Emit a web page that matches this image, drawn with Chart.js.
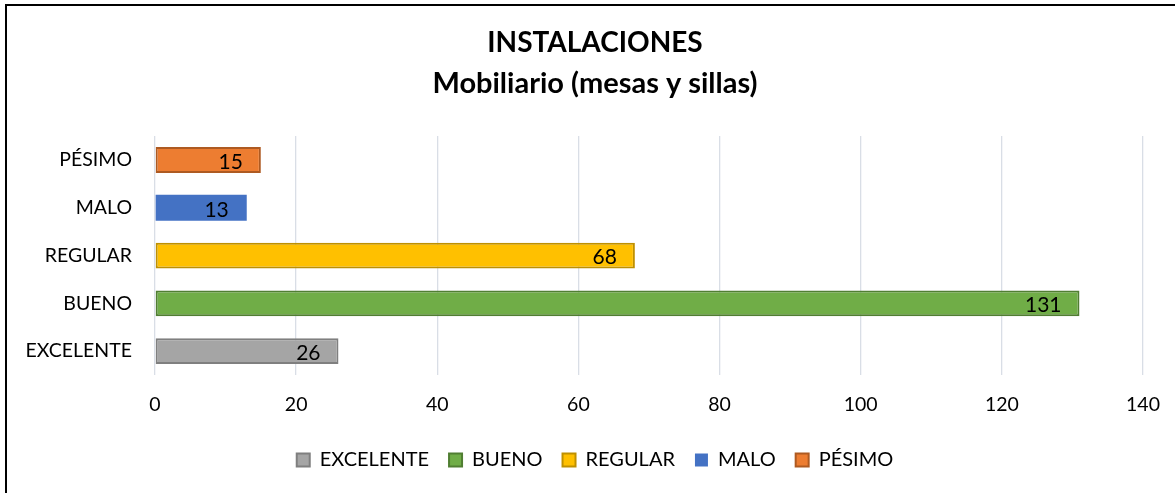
<!DOCTYPE html>
<html>
<head>
<meta charset="utf-8">
<script src="https://cdn.jsdelivr.net/npm/chart.js@4.4.1/dist/chart.umd.min.js"></script>
<style>
  html, body { margin: 0; padding: 0; background: #fff; overflow: hidden; }
  #wrap { position: absolute; left: 0; top: 0; width: 1175px; height: 493px; }
  #frame { position: absolute; left: 5px; top: 4px; width: 2000px; height: 2000px;
           border-left: 2px solid #000; border-top: 2px solid #000; pointer-events: none; }
</style>
</head>
<body>
<div id="wrap"><canvas id="c" width="1175" height="493"></canvas></div>
<div id="frame"></div>
<script>
// ---- data ----
const titleText = 'INSTALACIONES';
const subtitleText = 'Mobiliario (mesas y sillas)';
const categories = ['EXCELENTE', 'BUENO', 'REGULAR', 'MALO', 'PÉSIMO'];
const values = [26, 131, 68, 13, 15];
const xTicks = [0, 20, 40, 60, 80, 100, 120, 140];
const fillColors = ['#A5A5A5', '#70AD47', '#FFC000', '#4472C4', '#ED7D31'];
const borderColors = ['#7F7F7F', '#507E32', '#BF9000', '#4472C4', '#AE5A21'];
const borderWidths = [2, 2, 2, 0, 2];

const FONT = 'Lato, "Open Sans", sans-serif';

const dataLabels = {
  id: 'dataLabels',
  afterDatasetsDraw(chart) {
    const ctx = chart.ctx;
    const meta = chart.getDatasetMeta(0);
    ctx.save();
    ctx.font = '21px ' + FONT;
    ctx.fillStyle = '#000';
    ctx.textAlign = 'right';
    ctx.textBaseline = 'middle';
    meta.data.forEach((bar, i) => {
      ctx.fillText(String(chart.data.datasets[0].data[i]), bar.x - 18, bar.y + 2);
    });
    ctx.restore();
  }
};

function blueGradient(context) {
  const chart = context.chart;
  const i = context.dataIndex;
  if (i !== 3) return fillColors[i];
  const el = chart.getDatasetMeta(0).data[i];
  if (!el || el.y === undefined || isNaN(el.y)) return fillColors[i];
  const h = el.height || 24;
  const g = chart.ctx.createLinearGradient(0, el.y - h / 2, 0, el.y + h / 2);
  g.addColorStop(0, '#5C86D2');
  g.addColorStop(1, '#2F60BA');
  return g;
}

new Chart(document.getElementById('c'), {
  type: 'bar',
  data: {
    labels: categories,
    datasets: [{
      data: values,
      backgroundColor: blueGradient,
      borderColor: borderColors,
      borderWidth: borderWidths,
      borderSkipped: false,
      categoryPercentage: 1,
      barPercentage: 0.54
    }]
  },
  plugins: [dataLabels],
  options: {
    indexAxis: 'y',
    responsive: false,
    animation: false,
    layout: { padding: { left: 20, right: 5, top: 26, bottom: 13 } },
    plugins: {
      title: {
        display: true,
        text: titleText,
        color: '#000',
        font: { family: FONT, size: 28, weight: 'bold', lineHeight: 1.18 },
        padding: { top: 0, bottom: 8 }
      },
      subtitle: {
        display: true,
        text: subtitleText,
        color: '#000',
        font: { family: FONT, size: 29, weight: 'bold', lineHeight: 1.14 },
        padding: { top: 0, bottom: 36 }
      },
      legend: {
        position: 'bottom',
        labels: {
          color: '#000',
          font: { family: FONT, size: 20 },
          boxWidth: 13,
          boxHeight: 13,
          padding: 20,
          generateLabels: () => categories.map((c, i) => ({
            text: c,
            fillStyle: fillColors[i],
            strokeStyle: borderColors[i],
            lineWidth: borderWidths[i],
            hidden: false,
            index: i
          }))
        }
      },
      tooltip: { enabled: false }
    },
    scales: {
      x: {
        min: 0,
        max: 140,
        afterBuildTicks: (s) => { s.ticks = xTicks.map(v => ({ value: v })); },
        ticks: { color: '#000', font: { family: FONT, size: 19.5 }, padding: 18 },
        grid: { color: '#D9DEE6', lineWidth: 1.3, drawTicks: false },
        border: { display: false },
        afterFit: (s) => { s.height = 55; s.paddingRight = 32; }
      },
      y: {
        reverse: true,
        ticks: { color: '#000', font: { family: FONT, size: 19.5 }, padding: 23 },
        grid: { display: false, drawTicks: false },
        border: { display: false },
        afterFit: (s) => { s.width = 135; }
      }
    }
  }
});
</script>
</body>
</html>
